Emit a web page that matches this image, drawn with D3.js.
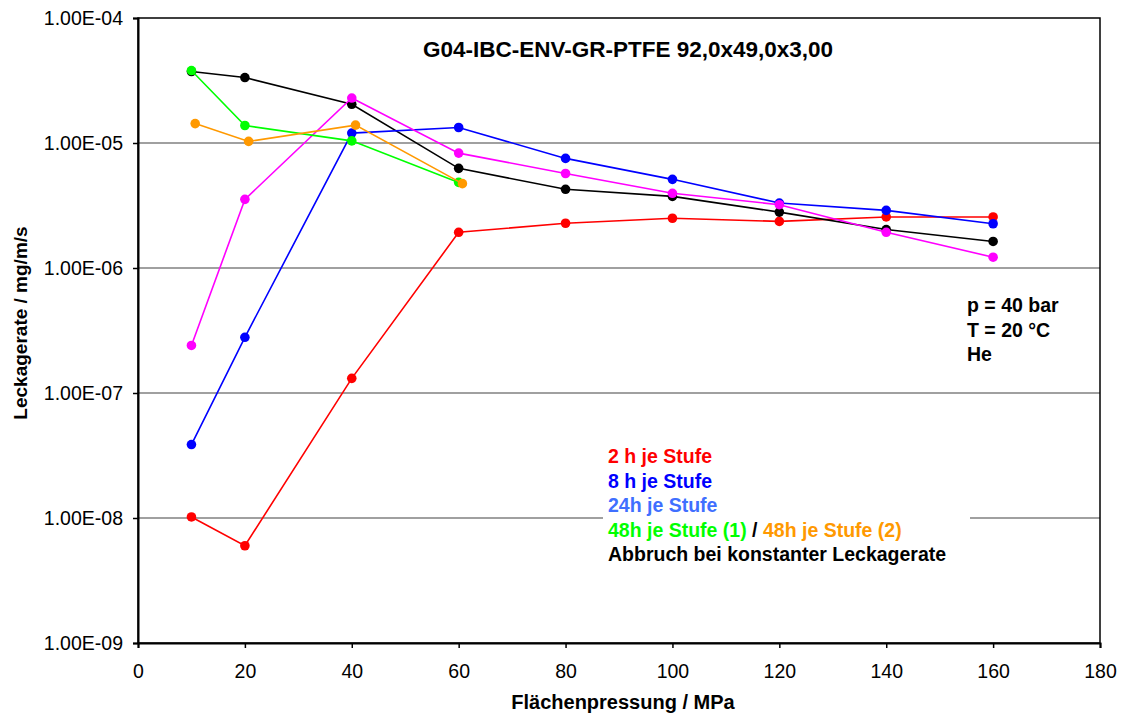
<!DOCTYPE html>
<html>
<head>
<meta charset="utf-8">
<script src="https://cdn.jsdelivr.net/npm/d3@7"></script>
<style>
  body { margin: 0; background: #fff; }
  text { font-family: Arial, "Liberation Sans", sans-serif; }
</style>
</head>
<body>
<div id="chart"></div>
<script>
// pressure steps (MPa)
var xSteps = [10, 20, 40, 60, 80, 100, 120, 140, 160]
var xOrange = [10.7, 20.7, 40.7, 60.7]
var xShort = [10, 20, 40, 60]

// leak rates, mg/m/s
var red = [1.02e-8, 6.0e-9, 1.31e-7, 1.93e-6, 2.28e-6, 2.5e-6, 2.36e-6, 2.56e-6, 2.56e-6]
var black = [3.73e-5, 3.34e-5, 2.04e-5, 6.27e-6, 4.26e-6, 3.74e-6, 2.8e-6, 2.03e-6, 1.63e-6]
var blue = [3.87e-8, 2.79e-7, 1.2e-5, 1.33e-5, 7.53e-6, 5.12e-6, 3.31e-6, 2.89e-6, 2.26e-6]
var magenta = [2.4e-7, 3.54e-6, 2.29e-5, 8.3e-6, 5.7e-6, 3.96e-6, 3.21e-6, 1.93e-6, 1.22e-6]
var green = [3.8e-5, 1.38e-5, 1.04e-5, 4.84e-6]
var orange = [1.43e-5, 1.03e-5, 1.39e-5, 4.73e-6]

var xTicks = [0, 20, 40, 60, 80, 100, 120, 140, 160, 180]
var yTicks = [1e-9, 1e-8, 1e-7, 1e-6, 1e-5, 1e-4]
var yTickLabels = ["1.00E-09", "1.00E-08", "1.00E-07", "1.00E-06", "1.00E-05", "1.00E-04"]

var legendLines = [
  [{t: "2 h je Stufe", c: "#ff0000"}],
  [{t: "8 h je Stufe", c: "#0000ff"}],
  [{t: "24h je Stufe", c: "#3f6fff"}],
  [{t: "48h je Stufe (1)", c: "#00ff00"}, {t: " / ", c: "#000"}, {t: "48h je Stufe (2)", c: "#ff9900"}],
  [{t: "Abbruch bei konstanter Leckagerate", c: "#000"}]
]
var conditions = ["p = 40 bar", "T = 20 °C", "He"]

var W = 1121, H = 717
var margin = {top: 18, right: 21, bottom: 74, left: 138}
var w = W - margin.left - margin.right
var h = H - margin.top - margin.bottom

var svg = d3.select("#chart").append("svg")
    .attr("width", W)
    .attr("height", H)

var g = svg.append("g")
    .attr("transform", "translate(" + margin.left + "," + margin.top + ")")

var x = d3.scaleLinear().domain([0, 180]).range([0, w])
var y = d3.scaleLog().domain([1e-9, 1e-4]).range([h, 0])

// gridlines
g.selectAll("line.grid")
  .data(yTicks.slice(1, -1))
  .enter().append("line")
    .attr("class", "grid")
    .attr("x1", 0).attr("x2", w)
    .attr("y1", d => y(d)).attr("y2", d => y(d))
    .attr("stroke", "#808080")
    .attr("stroke-width", 1.5)

// legend box covers the grid line
g.append("rect")
  .attr("x", 465).attr("y", 428)
  .attr("width", 367).attr("height", 130)
  .attr("fill", "#fff")

// border
g.append("rect")
  .attr("x", 0).attr("y", 0).attr("width", w).attr("height", h)
  .attr("fill", "none").attr("stroke", "#000").attr("stroke-width", 1.5)

// axes
g.append("g")
    .attr("transform", "translate(0," + h + ")")
    .call(d3.axisBottom(x).tickValues(xTicks).tickSize(5).tickPadding(16))
g.append("g")
    .call(d3.axisLeft(y).tickValues(yTicks).tickSize(5).tickPadding(10)
      .tickFormat((d, i) => yTickLabels[i]))

g.selectAll(".domain").attr("stroke", "#000").attr("stroke-width", 2)
g.selectAll(".tick line").attr("stroke", "#000").attr("stroke-width", 1.5)
g.selectAll(".tick text")
  .attr("font-size", "19.5px").attr("fill", "#000")
  .style("font-family", "Arial, 'Liberation Sans', sans-serif")

// series
var series = [
  {xs: xSteps, ys: red, c: "#ff0000"},
  {xs: xSteps, ys: black, c: "#000000"},
  {xs: xSteps, ys: blue, c: "#0000ff"},
  {xs: xSteps, ys: magenta, c: "#ff00ff"},
  {xs: xShort, ys: green, c: "#00ff00"},
  {xs: xOrange, ys: orange, c: "#ff9900"}
]

var line = d3.line().x(d => x(d[0])).y(d => y(d[1]))

series.forEach(function(s) {
  var pts = s.xs.map((v, i) => [v, s.ys[i]])
  g.append("path")
    .datum(pts)
    .attr("d", line)
    .attr("fill", "none")
    .attr("stroke", s.c)
    .attr("stroke-width", 1.6)
  g.selectAll(null)
    .data(pts)
    .enter().append("circle")
      .attr("cx", d => x(d[0]))
      .attr("cy", d => y(d[1]))
      .attr("r", 4.8)
      .attr("fill", s.c)
})

// title
svg.append("text")
  .attr("x", 628).attr("y", 57)
  .attr("text-anchor", "middle")
  .attr("font-size", "22.5px").attr("font-weight", "bold")
  .text("G04-IBC-ENV-GR-PTFE 92,0x49,0x3,00")

// test conditions
svg.selectAll("text.cond")
  .data(conditions)
  .enter().append("text")
    .attr("class", "cond")
    .attr("x", 967)
    .attr("y", (d, i) => 312 + i * 24.5)
    .attr("font-size", "19.5px").attr("font-weight", "bold")
    .text(d => d)

// legend text
legendLines.forEach(function(parts, i) {
  var t = svg.append("text")
    .attr("x", 608)
    .attr("y", 463 + i * 24.5)
    .attr("font-size", "19.5px").attr("font-weight", "bold")
  parts.forEach(function(p) {
    t.append("tspan").attr("fill", p.c).text(p.t)
  })
})

// axis titles
svg.append("text")
  .attr("x", 623).attr("y", 709)
  .attr("text-anchor", "middle")
  .attr("font-size", "20px").attr("font-weight", "bold")
  .text("Flächenpressung / MPa")

svg.append("text")
  .attr("transform", "translate(27,323) rotate(-90)")
  .attr("text-anchor", "middle")
  .attr("font-size", "19px").attr("font-weight", "bold")
  .text("Leckagerate / mg/m/s")
</script>
</body>
</html>
